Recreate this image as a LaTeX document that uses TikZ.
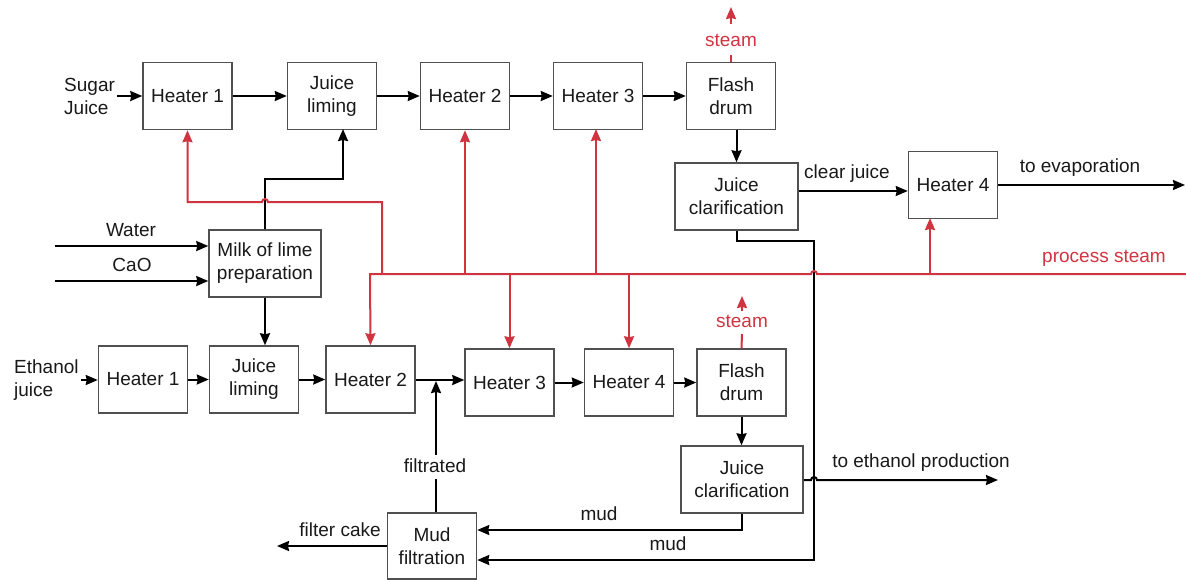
\documentclass[tikz,border=0pt]{standalone}
\usepackage{fontspec}
\setmainfont{Liberation Sans}
\usetikzlibrary{arrows.meta}
\definecolor{steamred}{RGB}{208,52,65}
\definecolor{boxgray}{RGB}{80,80,80}
\definecolor{ink}{RGB}{25,25,25}
\tikzset{
  every node/.style={font=\fontsize{19}{23}\selectfont, text=ink},
  box/.style={draw=boxgray, line width=1.5pt, fill=white, align=center,
    minimum width=89pt, minimum height=67pt, inner sep=0pt},
  widebox/.style={box, minimum width=123pt},
  flow/.style={draw=black, line width=2pt, -{Stealth[length=12pt,width=10pt,inset=1pt]}},
  pipe/.style={draw=black, line width=2pt},
  steamflow/.style={draw=steamred, line width=2pt, -{Stealth[length=12pt,width=10pt,inset=1pt]}},
  steampipe/.style={draw=steamred, line width=2pt},
  lbl/.style={inner sep=2pt},
  redlbl/.style={inner sep=2pt, text=steamred},
}
\begin{document}
\begin{tikzpicture}[x=1pt,y=-1pt]
\useasboundingbox (0,0) rectangle (1186,579);

% ---- sugar juice line (top) ----
\node[box] (h1t) at (187.5,96) {Heater 1};
\node[box] (jlt) at (332,96) {Juice\\liming};
\node[box] (h2t) at (465,96) {Heater 2};
\node[box] (h3t) at (598,96) {Heater 3};
\node[box] (fdt) at (731,96) {Flash\\drum};
\node[widebox] (jct) at (736.5,196.5) {Juice\\clarification};
\node[box] (h4t) at (953,185) {Heater 4};
\node[widebox, minimum width=112pt] (mlp) at (265,263.5) {Milk of lime\\preparation};

% ---- ethanol juice line (bottom) ----
\node[box] (h1b) at (143,379.5) {Heater 1};
\node[box] (jlb) at (254,379.5) {Juice\\liming};
\node[box] (h2b) at (370.5,379.5) {Heater 2};
\node[box] (h3b) at (509.5,382.5) {Heater 3};
\node[box] (h4b) at (629,382.5) {Heater 4};
\node[box] (fdb) at (741.5,382.5) {Flash\\drum};
\node[widebox, minimum width=122pt] (jcb) at (742,479.5) {Juice\\clarification};
\node[box, minimum height=66pt] (mud) at (432,546) {Mud\\filtration};

% ---- free labels ----
\node[lbl, anchor=west, align=left] (sj) at (62,96) {Sugar\\Juice};
\node[lbl, anchor=west, align=left] (ej) at (12,380) {Ethanol\\juice};
\node[lbl] (water) at (131,230) {Water};
\node[lbl] (cao) at (132,265) {CaO};
\node[lbl] (clear) at (847,174) {clear juice};
\node[lbl] (evap) at (1080,168) {to evaporation};
\node[redlbl] (pst) at (1104,258) {process steam};
\node[lbl] (etoh) at (921,463) {to ethanol production};
\node[lbl] (mud1) at (599,514) {mud};
\node[lbl] (mud2) at (668,544) {mud};
\node[lbl] (fcake) at (340,530) {filter cake};
\node[lbl, inner sep=4pt] (filt) at (435,466) {filtrated};
\node[redlbl] (stm1) at (731,40) {steam};
\node[redlbl] (stm2) at (742,321) {steam};

% ---- connector end points ----
\coordinate (wIn) at (55,246);
\coordinate (cIn) at (55,281);
\coordinate (evapOut) at (1185,185);
\coordinate (etohOut) at (998,480);
\coordinate (cakeOut) at (277,546);
\coordinate (hdrL) at (370,274);
\coordinate (hdrR) at (1186,274);
\coordinate (s1a) at (731,24);
\coordinate (s1b) at (731,7);
\coordinate (s2a) at (742,311);
\coordinate (s2b) at (742,296);

% ---- top process flow ----
\draw[flow] (sj.east |- h1t.west) -- (h1t.west);
\draw[flow] (h1t) -- (jlt);
\draw[flow] (jlt) -- (h2t);
\draw[flow] (h2t) -- (h3t);
\draw[flow] (h3t) -- (fdt);
\draw[flow] (jct.north |- fdt.south) -- (jct.north);
\draw[flow] (jct.east |- 0,191) -- (h4t.west |- 0,191);
\draw[flow] (h4t.east) -- (evapOut);

% ---- milk of lime ----
\draw[flow] (wIn) -- (mlp.west |- wIn);
\draw[flow] (cIn) -- (mlp.west |- cIn);
\draw[flow] (mlp.north) -- (265,179) -- (343,179) -- (343,129);
\draw[flow] (mlp.south) -- (mlp.south |- jlb.north);

% ---- bottom process flow ----
\draw[flow] (ej.east |- 0,380) -- (h1b.west |- 0,380);
\draw[flow] (h1b) -- (jlb);
\draw[flow] (jlb) -- (h2b);
\draw[flow] (h2b.east |- 0,380) -- (h3b.west |- 0,380);
\draw[flow] (h3b) -- (h4b);
\draw[flow] (h4b) -- (fdb);
\draw[flow] (fdb.south) -- (fdb.south |- jcb.north);

% ---- mud handling ----
\draw[flow] (jcb.south) -- (742,530) -- (mud.east |- 0,530);
\draw[flow] (jct.south) -- (736.5,241) -- (814,241) -- (814,560) -- (mud.east |- 0,560);
\draw[flow] (mud.west) -- (cakeOut);
\draw[pipe] (mud.north -| filt.south) ++(1,0) -- ++(0,-33);
\draw[flow] ([xshift=1pt]filt.north) -- (436,381);
\draw[flow] (jcb.east |- 0,480) -- (811,480) arc[start angle=180,end angle=0,radius=3pt] -- (etohOut);

% ---- steam header and branches ----
\draw[steampipe, {Stealth[length=12pt,width=10pt,inset=1pt]}-] (h2b.north) -- (hdrL) -- (811,274)
  arc[start angle=180,end angle=0,radius=3pt] -- (hdrR);
\draw[steamflow] (382,274) -- (382,202) -- (268,202)
  arc[start angle=0,end angle=180,radius=3pt] -- (h1t.south |- 0,202) -- (h1t.south);
\draw[steamflow] (h2t.south |- hdrL) -- (h2t.south);
\draw[steamflow] (596,274) -- (596,129);
\draw[steamflow] (930,274) -- (930,218);
\draw[steamflow] (h3b.north |- hdrL) -- (h3b.north);
\draw[steamflow] (h4b.north |- hdrL) -- (h4b.north);

% ---- vented steam from the flash drums ----
\draw[steampipe] (fdt.north) -- (731,55);
\draw[steamflow] (s1a) -- (s1b);
\draw[steampipe] (fdb.north) -- (742,334);
\draw[steamflow] (s2a) -- (s2b);
\end{tikzpicture}
\end{document}
